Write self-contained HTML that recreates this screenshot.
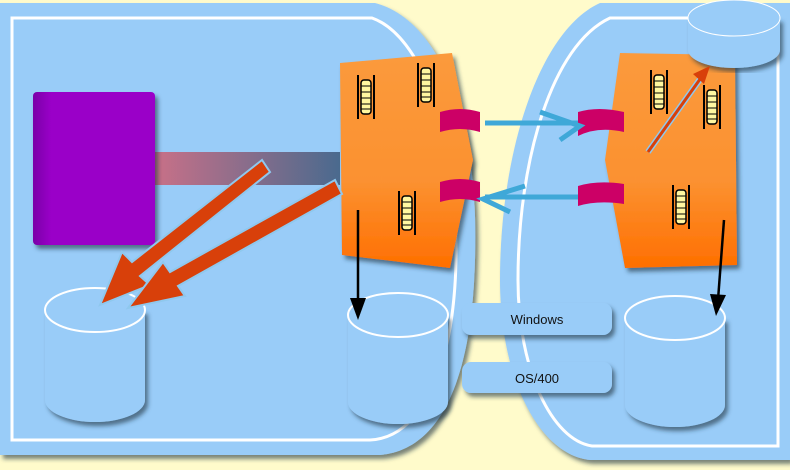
<!DOCTYPE html>
<html><head><meta charset="utf-8"><style>
body{margin:0;background:#FFFBCB;}
svg{display:block;font-family:"Liberation Sans",sans-serif;}
</style></head><body>
<svg width="790" height="470" viewBox="0 0 790 470">
<defs>
<linearGradient id="org" x1="0" y1="0" x2="0" y2="1"><stop offset="0" stop-color="#FB9A3C"/><stop offset="0.6" stop-color="#FB9130"/><stop offset="1" stop-color="#FF6F00"/></linearGradient>
<linearGradient id="bar" x1="0" y1="0" x2="1" y2="0"><stop offset="0" stop-color="#C87088"/><stop offset="1" stop-color="#4A6A8E"/></linearGradient>
<linearGradient id="pur" x1="0" y1="0" x2="1" y2="0"><stop offset="0" stop-color="#7A00A8"/><stop offset="0.15" stop-color="#9A00C8"/><stop offset="1" stop-color="#9A00C8"/></linearGradient>
<filter id="sh"><feDropShadow dx="3" dy="4" stdDeviation="2" flood-color="#203040" flood-opacity="0.6"/></filter>
<g id="ladder"><line x1="-8" y1="-22" x2="-8" y2="22" stroke="#000" stroke-width="2"/><line x1="8" y1="-22" x2="8" y2="22" stroke="#000" stroke-width="2"/><rect x="-5" y="-17" width="10" height="34" rx="3" fill="#FFF7A0" stroke="#000" stroke-width="1.5"/><path d="M-5 -11H5M-5 -5H5M-5 1H5M-5 7H5M-5 12H5" stroke="#000" stroke-width="1"/></g>
</defs>
<rect width="790" height="470" fill="#FFFBCB"/>
<path d="M0 3 H375 C440 20 480 120 475 260 C472 380 440 450 380 455 H0 Z" fill="#99CCF8" filter="url(#sh)"/>
<path d="M12 18 H372 C420 35 458 130 456 260 C454 370 420 438 370 440 H12 Z" fill="none" stroke="#fff" stroke-width="3"/>
<path d="M790 3 V460 H590 C540 455 500 380 500 280 C500 150 540 30 600 3 Z" fill="#99CCF8" filter="url(#sh)"/>
<path d="M778 18 V446 H592 C552 440 518 370 518 280 C518 160 552 45 610 18 Z" fill="none" stroke="#fff" stroke-width="3"/>
<rect x="155" y="152" width="185" height="33" fill="url(#bar)"/>
<rect x="33" y="92" width="122" height="153" rx="4" fill="url(#pur)" filter="url(#sh)"/>
<path d="M340 63 L452 53 L473 160 L450 268 L342 255 Z" fill="url(#org)" filter="url(#sh)"/>
<path d="M620 53 L735 55 L737 265 L625 268 L605 160 Z" fill="url(#org)" filter="url(#sh)"/>
<use href="#ladder" x="366" y="97"/><use href="#ladder" x="426" y="85"/><use href="#ladder" x="407" y="213"/>
<use href="#ladder" x="659" y="92"/><use href="#ladder" x="712" y="107"/><use href="#ladder" x="681" y="207"/>
<path d="M440 112 Q460 106 480 112 L480 132 Q460 126 440 132 Z" fill="#CC0066"/>
<path d="M440 182 Q460 176 480 182 L480 202 Q460 196 440 202 Z" fill="#CC0066"/>
<path d="M578 112 Q598 106 624 112 L624 132 Q598 126 578 136 Z" fill="#CC0066"/>
<path d="M578 186 Q598 180 624 184 L624 204 Q598 200 578 206 Z" fill="#CC0066"/>
<path d="M485 123 H578 M540 112 L580 126 L560 140" fill="none" stroke="#3FA8D8" stroke-width="5"/>
<path d="M578 197 H485 M525 186 L483 199 L510 212" fill="none" stroke="#3FA8D8" stroke-width="5"/>
<g>
<path d="M45 310 V400 A50 22 0 0 0 145 400 V310 Z" fill="#99CCF8" filter="url(#sh)"/>
<ellipse cx="95" cy="310" rx="50" ry="22" fill="#99CCF8" stroke="#fff" stroke-width="2"/></g>
<g>
<path d="M348 315 V402 A50 22 0 0 0 448 402 V315 Z" fill="#99CCF8" filter="url(#sh)"/>
<ellipse cx="398" cy="315" rx="50" ry="22" fill="#99CCF8" stroke="#fff" stroke-width="2"/></g>
<g>
<path d="M625 318 V405 A50 22 0 0 0 725 405 V318 Z" fill="#99CCF8" filter="url(#sh)"/>
<ellipse cx="675" cy="318" rx="50" ry="22" fill="#99CCF8" stroke="#fff" stroke-width="2"/></g>
<g>
<path d="M688 18 V50 A46 18 0 0 0 780 50 V18 Z" fill="#99CCF8" filter="url(#sh)"/>
<ellipse cx="734" cy="18" rx="46" ry="18" fill="#99CCF8" stroke="#fff" stroke-width="1"/></g>
<path d="M262 160 L132 262 L122 252 L100 305 L150 285 L140 276 L270 172 Z" fill="#D8400A" stroke="#8FC8EE" stroke-width="2"/>
<path d="M335 180 L170 272 L163 262 L128 308 L185 296 L178 286 L342 194 Z" fill="#D8400A" stroke="#8FC8EE" stroke-width="2"/>
<path d="M648 152 L703 75" stroke="#8FC8EE" stroke-width="6"/>
<path d="M648 152 L703 75" stroke="#D8400A" stroke-width="3"/><path d="M710 66 L693 74 L704 84 Z" fill="#D8400A"/>
<line x1="358" y1="210" x2="358" y2="305" stroke="#000" stroke-width="2.5"/><path d="M350 298 L358 320 L366 298 Z"/>
<line x1="724" y1="220" x2="718" y2="300" stroke="#000" stroke-width="2.5"/><path d="M710 294 L716 316 L726 295 Z"/>
<g filter="url(#sh)">
<rect x="462" y="303" width="150" height="32" rx="9" fill="#99CCF8"/>
<rect x="462" y="362" width="150" height="31" rx="9" fill="#99CCF8"/>
</g>
<text x="537" y="324" text-anchor="middle" font-size="13" fill="#111">Windows</text>
<text x="537" y="383" text-anchor="middle" font-size="13" fill="#111">OS/400</text>
</svg>
</body></html>
